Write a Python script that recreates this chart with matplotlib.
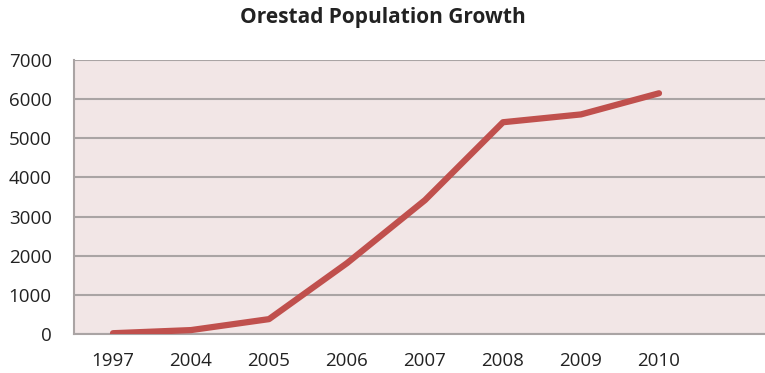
import matplotlib
matplotlib.use("Agg")
import matplotlib.pyplot as pyplot

pyplot.rcParams["font.family"] = ["Open Sans", "DejaVu Sans"]

years = ["1997", "2004", "2005", "2006", "2007", "2008", "2009", "2010"]
population = [20, 100, 380, 1810, 3420, 5410, 5610, 6150]
yTicks = [0, 1000, 2000, 3000, 4000, 5000, 6000, 7000]

lineColor = "#c0504d"
gridColor = "#aaa4a4"
plotBackground = "#f2e6e6"

figure = pyplot.figure(figsize=(7.65, 3.73), dpi=100)
axis = figure.add_axes([74 / 765, 1 - 334 / 373, 702 / 765, 274 / 373])
axis.set_facecolor(plotBackground)

positions = list(range(len(years)))
axis.plot(positions, population, "-", color=lineColor, linewidth=4.5,
          solid_joinstyle="round", solid_capstyle="round", zorder=3)

axis.set_xlim(-0.5, len(years) + 0.5)
axis.set_ylim(0, 7000)
axis.set_xticks(positions)
axis.set_xticklabels(years)
axis.set_yticks(yTicks)
axis.yaxis.grid(True, color=gridColor, linewidth=1.5)
axis.set_axisbelow(True)

for side in ["top", "right"]:
    axis.spines[side].set_visible(False)
for side in ["left", "bottom"]:
    axis.spines[side].set_color(gridColor)
    axis.spines[side].set_linewidth(1.5)

axis.tick_params(axis="both", length=0, labelsize=13.5, labelcolor="#222222")
axis.tick_params(axis="x", pad=13)
axis.tick_params(axis="y", pad=16)

figure.text(0.5, 1 - 18 / 373, "Orestad Population Growth", ha="center",
            va="center", fontsize=15, fontweight="bold", color="#222222")

figure.savefig("out.png", dpi=100)
